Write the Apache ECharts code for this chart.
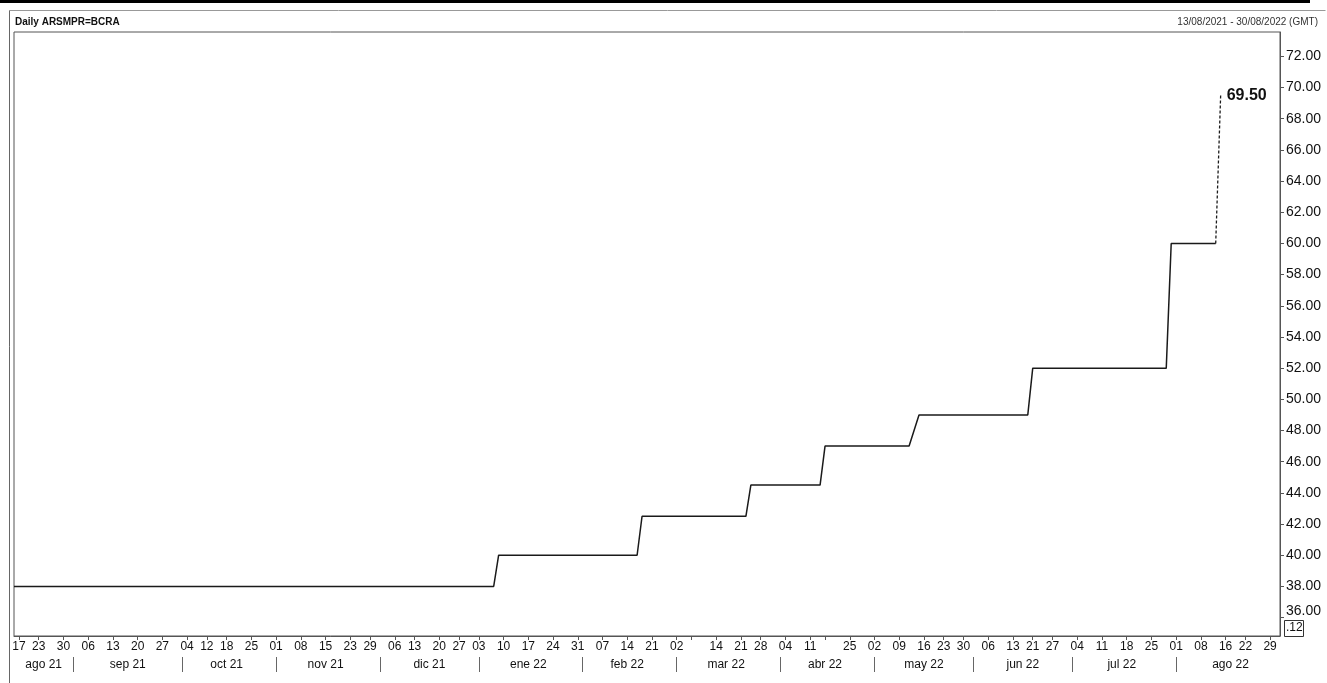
<!DOCTYPE html>
<html>
<head>
<meta charset="utf-8">
<script src="https://cdn.jsdelivr.net/npm/echarts@6/dist/echarts.min.js"></script>
<style>
html,body{margin:0;padding:0;background:#fff;}
#chart{width:1327px;height:683px;}
</style>
</head>
<body>
<div id="chart"></div>
<script>
// ---- Data ----
const rangeStart = '2021-08-13';
const rangeEnd = '2022-08-31';
const holidays = ['2021-08-16','2021-10-08','2021-10-11','2021-11-22','2021-12-08','2021-12-24','2021-12-31',
  '2022-02-28','2022-03-01','2022-03-24','2022-04-14','2022-04-15','2022-05-18','2022-05-25',
  '2022-06-17','2022-06-20','2022-08-15'];

// policy rate (%) at the change points (line drawn between these points)
const stepDates = ['2021-08-13','2022-01-06','2022-01-07','2022-02-16','2022-02-17','2022-03-22','2022-03-23',
  '2022-04-13','2022-04-18','2022-05-11','2022-05-13','2022-06-16','2022-06-21','2022-07-28','2022-07-29','2022-08-11'];
const stepValues = [38,38,40,40,42.5,42.5,44.5,44.5,47,47,49,49,52,52,60,60];
// latest (dashed) segment
const lastDates = ['2022-08-11','2022-08-12'];
const lastValues = [60,69.5];

// tick labels
const weekLabels = ['2021-08-17','2021-08-23','2021-08-30','2021-09-06','2021-09-13','2021-09-20','2021-09-27',
  '2021-10-04','2021-10-12','2021-10-18','2021-10-25','2021-11-01','2021-11-08','2021-11-15','2021-11-23','2021-11-29',
  '2021-12-06','2021-12-13','2021-12-20','2021-12-27','2022-01-03','2022-01-10','2022-01-17','2022-01-24','2022-01-31',
  '2022-02-07','2022-02-14','2022-02-21','2022-03-02','2022-03-14','2022-03-21','2022-03-28','2022-04-04','2022-04-11',
  '2022-04-25','2022-05-02','2022-05-09','2022-05-16','2022-05-23','2022-05-30','2022-06-06','2022-06-13','2022-06-21',
  '2022-06-27','2022-07-04','2022-07-11','2022-07-18','2022-07-25','2022-08-01','2022-08-08','2022-08-16','2022-08-22','2022-08-29'];
const weekTicksExtra = ['2022-03-07','2022-04-18'];
const monthNames = ['ene','feb','mar','abr','may','jun','jul','ago','sep','oct','nov','dic'];
const yTicks = [36,38,40,42,44,46,48,50,52,54,56,58,60,62,64,66,68,70,72];

// ---- Build trading-day categories ----
function fmt(d){const m=d.getUTCMonth()+1, dd=d.getUTCDate();return d.getUTCFullYear()+'-'+(m<10?'0':'')+m+'-'+(dd<10?'0':'')+dd;}
const days = [];
for (let d = new Date(rangeStart+'T00:00:00Z'); fmt(d) <= rangeEnd; d.setUTCDate(d.getUTCDate()+1)) {
  const wd = d.getUTCDay();
  const s = fmt(d);
  if (wd !== 0 && wd !== 6 && holidays.indexOf(s) < 0) days.push(s);
}
// month spans
const monthFirst = new Set();
const monthMid = {};
{
  let cur = null, startIdx = 0;
  const spans = [];
  days.forEach((s,i)=>{const k=s.slice(0,7); if(k!==cur){ if(cur) spans.push([cur,startIdx,i-1]); cur=k; startIdx=i; }});
  spans.push([cur,startIdx,days.length-1]);
  spans.forEach((sp,j)=>{ if(j>0) monthFirst.add(sp[1]); const mid=Math.round((sp[1]+sp[2])/2); monthMid[mid]=sp[0]; });
}
const labelSet = new Set(weekLabels);
const tickSet = new Set(weekLabels.concat(weekTicksExtra));

const mainData = stepDates.map((d,i)=>[d, stepValues[i]]);
const lastData = lastDates.map((d,i)=>[d, lastValues[i]]);

const chart = echarts.init(document.getElementById('chart'), null, {renderer:'canvas'});
const font = 'Liberation Sans, Arial, sans-serif';
chart.setOption({
  animation:false,
  backgroundColor:'#fff',
  grid:{left:14,right:47,top:32,bottom:47,show:true,borderColor:'#555',borderWidth:1,backgroundColor:'#fff'},
  xAxis:[{
    type:'category', data:days, boundaryGap:false,
    axisLine:{show:true,lineStyle:{color:'#555',width:1}},
    axisTick:{show:true,interval:(i,v)=>tickSet.has(v),length:4,lineStyle:{color:'#555'}},
    axisLabel:{interval:(i,v)=>labelSet.has(v),formatter:(v)=>v.slice(8,10),fontFamily:font,fontSize:12,color:'#111',margin:5},
    splitLine:{show:false}
  },{
    type:'category', data:days, boundaryGap:false, position:'bottom', offset:21, gridIndex:0,
    axisLine:{show:false},
    axisTick:{show:true,interval:(i)=>monthFirst.has(i),length:15,lineStyle:{color:'#666'}},
    axisLabel:{interval:(i)=>monthMid[i]!==undefined,formatter:(v,i)=>{const k=v.slice(0,7);return monthNames[+k.slice(5,7)-1]+' '+k.slice(2,4);},
      fontFamily:font,fontSize:12,color:'#111',margin:2},
    splitLine:{show:false}
  }],
  yAxis:{
    type:'value', position:'right', min:34.82, max:73.56,
    axisLine:{show:true,lineStyle:{color:'#555',width:1}},
    axisTick:{show:true,length:4,customValues:yTicks,lineStyle:{color:'#555'}},
    axisLabel:{customValues:yTicks,
      formatter:(v)=> v===yTicks[0] ? '{lo|'+v.toFixed(2)+'}' : v.toFixed(2),
      rich:{lo:{fontFamily:font,fontSize:14,color:'#111',padding:[0,0,12,0]}},
      fontFamily:font,fontSize:14,color:'#111',margin:6},
    splitLine:{show:false}
  },
  series:[{
    type:'line', xAxisIndex:0, data:mainData, symbol:'none', lineStyle:{color:'#1a1a1a',width:1.5}
  },{
    type:'line', xAxisIndex:0, data:lastData, symbol:'none',
    lineStyle:{color:'#1a1a1a',width:1.3,type:[3,2]},
    endLabel:{show:true,distance:6,offset:[0,0],formatter:(p)=>Number(p.value[1]).toFixed(2),
      fontFamily:font,fontSize:16,fontWeight:'bold',color:'#111'}
  }],
  graphic:[
    {type:'rect',left:0,top:0,shape:{width:1310,height:3},style:{fill:'#000'},silent:true},
    {type:'line',shape:{x1:9.5,y1:10.5,x2:1325.5,y2:10.5},style:{stroke:'#999',lineWidth:1},silent:true},
    {type:'line',shape:{x1:9.5,y1:10.5,x2:9.5,y2:683},style:{stroke:'#666',lineWidth:1},silent:true},
    {type:'text',left:15,top:17,style:{text:'Daily ARSMPR=BCRA',font:'bold 10px Liberation Sans, Arial, sans-serif',fill:'#111'}},
    {type:'text',right:9,top:17,style:{text:'13/08/2021 - 30/08/2022 (GMT)',font:'10px Liberation Sans, Arial, sans-serif',fill:'#333',align:'right'}},
    {type:'group',left:1284,top:620,children:[
      {type:'rect',shape:{x:0.5,y:0.5,width:19,height:16},style:{fill:'#fff',stroke:'#333',lineWidth:1}},
      {type:'text',x:2,y:2,style:{text:'.12',font:'12px Liberation Sans, Arial, sans-serif',fill:'#111'}}
    ]}
  ]
});
</script>
</body>
</html>
